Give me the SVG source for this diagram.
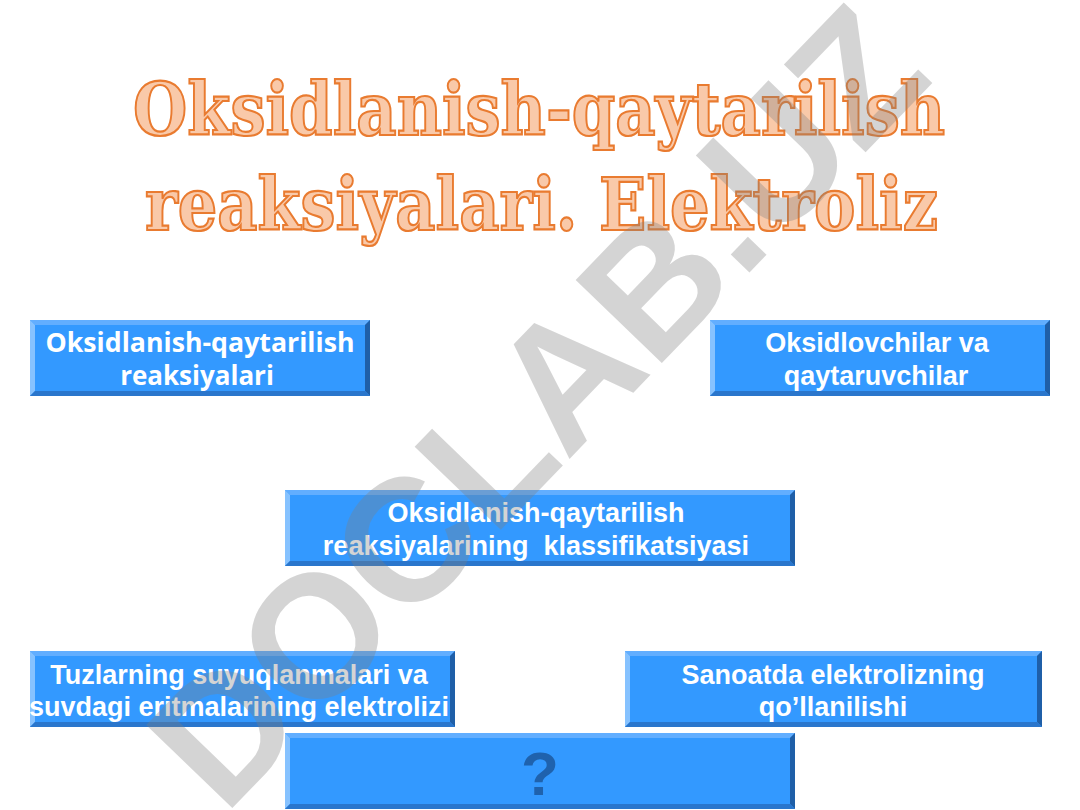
<svg xmlns="http://www.w3.org/2000/svg" width="1080" height="810" viewBox="0 0 1080 810">
<style>
.main{fill:#3399FF}
.bt{fill:#62AEFF}
.bl{fill:#86C2FF}
.br{fill:#1F5FA8}
.bb{fill:#2A76CC}
.t1{font-family:"Open Sans","Noto Sans",sans-serif;font-weight:bold;font-size:26px;fill:#FFFFFF;text-anchor:middle}
.t2{font-family:"Liberation Sans",Arial,sans-serif;font-weight:bold;font-size:27px;fill:#FFFFFF;text-anchor:middle}
.title{font-family:"DejaVu Serif","Liberation Serif",serif;font-weight:bold;font-size:72px;fill:#F9C9A9;stroke:#E97B30;stroke-width:2.2;text-anchor:start}
.wm{font-family:"Liberation Sans",Arial,sans-serif;font-weight:bold;font-size:174px;fill:#808080;opacity:0.33;text-anchor:middle}
</style>
<rect width="1080" height="810" fill="#FFFFFF"/>
<g id="title">
<text class="title" x="133" y="135" textLength="812" lengthAdjust="spacingAndGlyphs">Oksidlanish-qaytarilish</text>
<text class="title" x="145" y="230" textLength="793" lengthAdjust="spacingAndGlyphs">reaksiyalari. Elektroliz</text>
</g>
<g id="connectors"></g>
<g id="node1">
<rect class="main" x="30" y="320" width="340" height="76"/>
<polygon class="bt" points="30,320 370,320 365,325 35,325"/>
<polygon class="bl" points="30,320 35,325 35,391 30,396"/>
<polygon class="br" points="370,320 370,396 365,391 365,325"/>
<polygon class="bb" points="30,396 370,396 365,391 35,391"/>
<text class="t1" x="200" y="352" textLength="309" lengthAdjust="spacingAndGlyphs">Oksidlanish-qaytarilish</text>
<text class="t1" x="197" y="385">reaksiyalari</text>
</g>
<g id="node2">
<rect class="main" x="710" y="320" width="340" height="76"/>
<polygon class="bt" points="710,320 1050,320 1045,325 715,325"/>
<polygon class="bl" points="710,320 715,325 715,391 710,396"/>
<polygon class="br" points="1050,320 1050,396 1045,391 1045,325"/>
<polygon class="bb" points="710,396 1050,396 1045,391 715,391"/>
<text class="t2" x="877" y="352">Oksidlovchilar va</text>
<text class="t2" x="876" y="385">qaytaruvchilar</text>
</g>
<g id="node3">
<rect class="main" x="285" y="490" width="510" height="76"/>
<polygon class="bt" points="285,490 795,490 790,495 290,495"/>
<polygon class="bl" points="285,490 290,495 290,561 285,566"/>
<polygon class="br" points="795,490 795,566 790,561 790,495"/>
<polygon class="bb" points="285,566 795,566 790,561 290,561"/>
<text class="t2" x="536" y="522">Oksidlanish-qaytarilish</text>
<text class="t2" x="536" y="555" xml:space="preserve">reaksiyalarining  klassifikatsiyasi</text>
</g>
<g id="node4">
<rect class="main" x="30" y="651" width="425" height="76"/>
<polygon class="bt" points="30,651 455,651 450,656 35,656"/>
<polygon class="bl" points="30,651 35,656 35,722 30,727"/>
<polygon class="br" points="455,651 455,727 450,722 450,656"/>
<polygon class="bb" points="30,727 455,727 450,722 35,722"/>
<text class="t2" x="239" y="684">Tuzlarning suyuqlanmalari va</text>
<text class="t2" x="239" y="716">suvdagi eritmalarining elektrolizi</text>
</g>
<g id="node5">
<rect class="main" x="625" y="651" width="417" height="76"/>
<polygon class="bt" points="625,651 1042,651 1037,656 630,656"/>
<polygon class="bl" points="625,651 630,656 630,722 625,727"/>
<polygon class="br" points="1042,651 1042,727 1037,722 1037,656"/>
<polygon class="bb" points="625,727 1042,727 1037,722 630,722"/>
<text class="t2" x="833" y="684">Sanoatda elektrolizning</text>
<text class="t2" x="833" y="716">qo’llanilishi</text>
</g>
<g id="node6">
<rect class="main" x="285" y="733" width="510" height="76"/>
<polygon class="bt" points="285,733 795,733 790,738 290,738"/>
<polygon class="bl" points="285,733 290,738 290,804 285,809"/>
<polygon class="br" points="795,733 795,809 790,804 790,738"/>
<polygon class="bb" points="285,809 795,809 790,804 290,804"/>
<text x="540" y="795" style="font-family:'Liberation Sans',Arial,sans-serif;font-weight:bold;font-size:62px;fill:#1F62AD;text-anchor:middle">?</text>
</g>
<g id="watermark">
<text class="wm" x="0" y="0" transform="translate(580,448) rotate(-46)">DOCLAB.UZ</text>
</g>
</svg>
